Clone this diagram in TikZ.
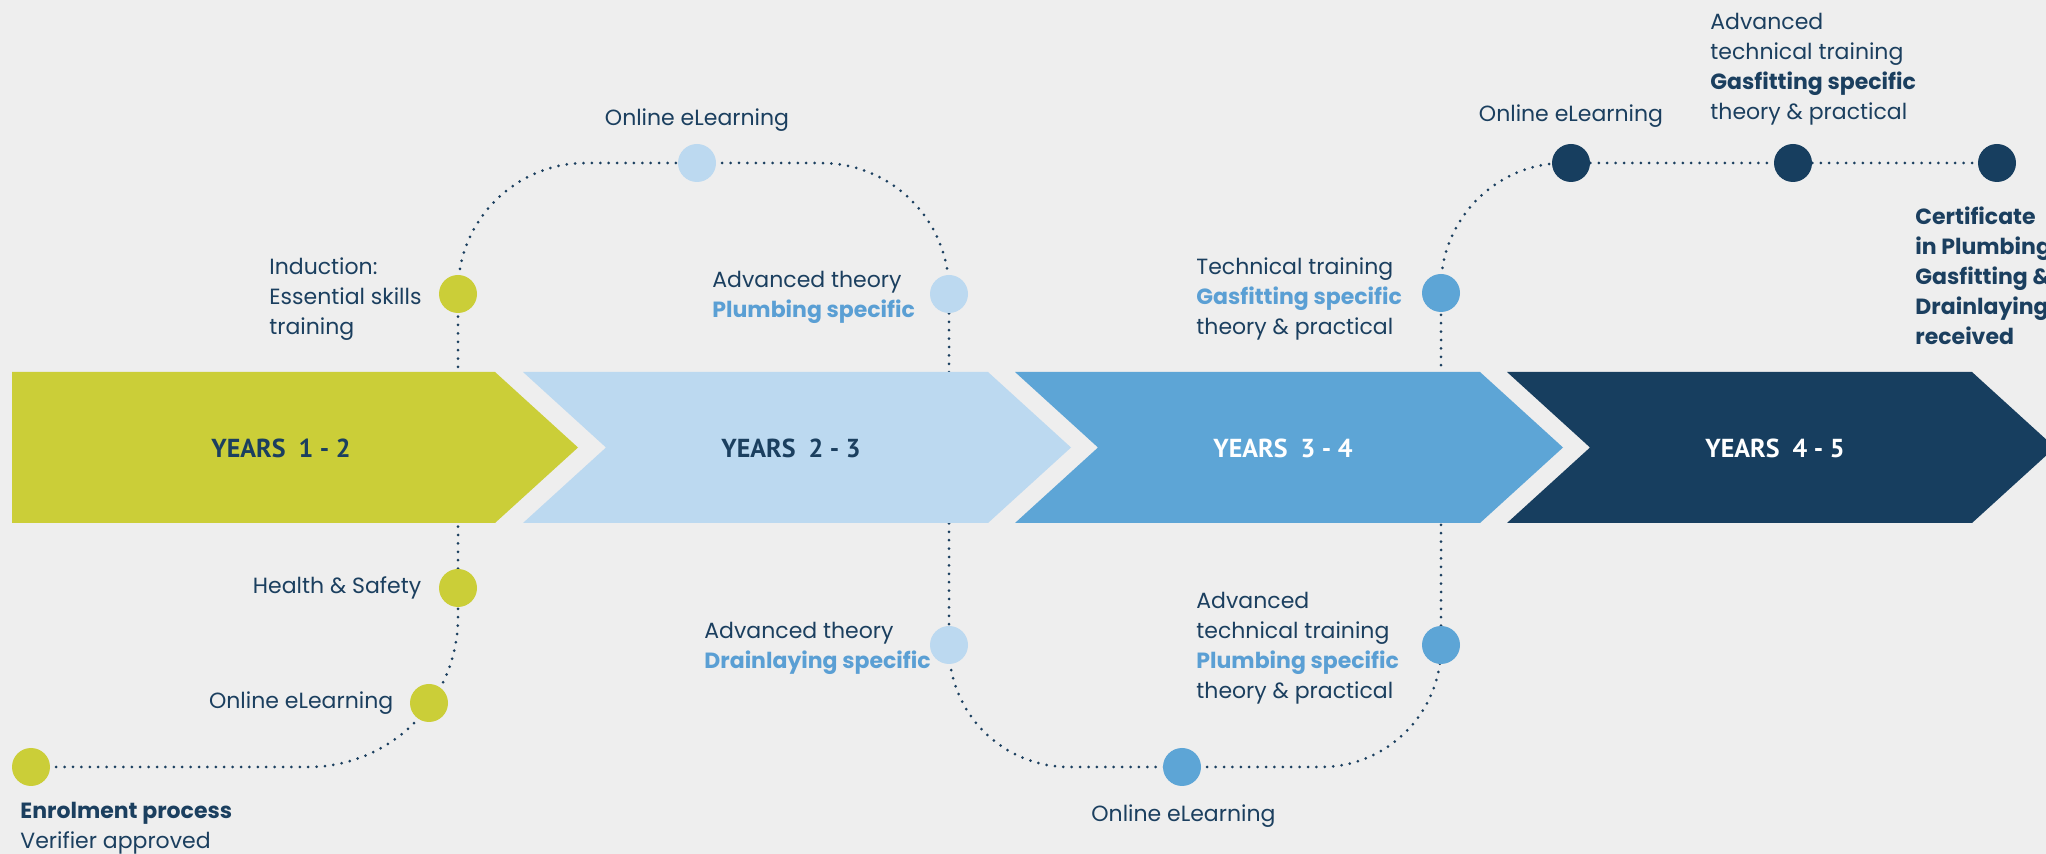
\documentclass[tikz,border=0pt]{standalone}
\usepackage{fontspec}
\setmainfont{Poppins}
\newfontfamily\yearsfont{PT Sans}
\usepackage{tikz}
\usetikzlibrary{positioning,backgrounds}

\definecolor{pagebg}{HTML}{EEEEEE}
\definecolor{yrlime}{HTML}{CBCE38}
\definecolor{yrsky}{HTML}{BCD9F0}
\definecolor{yrmid}{HTML}{5DA5D6}
\definecolor{yrnavy}{HTML}{173E5F}
\definecolor{ink}{HTML}{1B3F5F}
\definecolor{accent}{HTML}{5A9FD4}

\begin{document}
\begin{tikzpicture}[
    x=0.5pt, y=-0.5pt,
    dot/.style={circle, minimum size=19pt, inner sep=0pt},
    dotline/.style={draw=ink, line width=1.5pt, line cap=round, dash pattern=on 0pt off 4.2pt},
    lbl/.style={font=\fontsize{11}{15}\selectfont, text=ink, inner sep=0pt, align=left},
    yrs/.style={font=\yearsfont\bfseries\fontsize{13}{15}\selectfont, inner sep=0pt}
]
    \useasboundingbox (0,0) rectangle (2046,854);

    % milestones
    \node[dot, fill=yrlime] (enrol) at (31,767) {};
    \node[dot, fill=yrlime] (olA) at (429,703) {};
    \node[dot, fill=yrlime] (hs) at (458,588) {};
    \node[dot, fill=yrlime] (ind) at (458,294) {};
    \node[dot, fill=yrsky] (olB) at (697,163) {};
    \node[dot, fill=yrsky] (advp) at (949,294) {};
    \node[dot, fill=yrsky] (advd) at (949,645) {};
    \node[dot, fill=yrmid] (olC) at (1182,767) {};
    \node[dot, fill=yrmid] (advtp) at (1441,645) {};
    \node[dot, fill=yrmid] (tech) at (1441,293) {};
    \node[dot, fill=yrnavy] (olD) at (1571,163) {};
    \node[dot, fill=yrnavy] (advtg) at (1793,163) {};
    \node[dot, fill=yrnavy] (cert) at (1997,163) {};

    % year bands
    \node[yrs, text=ink] (y12) at (281,448) {YEARS\enspace1 - 2};
    \node[yrs, text=ink] (y23) at (791,448) {YEARS\enspace2 - 3};
    \node[yrs, text=white] (y34) at (1283,448) {YEARS\enspace3 - 4};
    \node[yrs, text=white] (y45) at (1775,448) {YEARS\enspace4 - 5};

    % labels
    \node[lbl, anchor=north west] (lenrol) at (20,802) {\textbf{Enrolment process}\\Verifier approved};
    \node[lbl, left=8pt of olA] (lolA) {Online eLearning};
    \node[lbl, left=8.5pt of hs] (lhs) {Health \& Safety};
    \node[lbl, anchor=north west] (lind) at (269,257) {Induction:\\Essential skills\\training};
    \node[lbl, above=6pt of olB] (lolB) {Online eLearning};
    \node[lbl, anchor=north west] (ladvp) at (712,271) {Advanced theory\\\textcolor{accent}{\textbf{Plumbing specific}}};
    \node[lbl, anchor=north west] (ladvd) at (704,622) {Advanced theory\\\textcolor{accent}{\textbf{Drainlaying specific}}};
    \node[lbl, anchor=base west] (lolC) at (1091,822) {Online eLearning};
    \node[lbl, anchor=north west] (ladvtp) at (1196,592) {Advanced\\technical training\\\textcolor{accent}{\textbf{Plumbing specific}}\\theory \& practical};
    \node[lbl, anchor=north west] (ltech) at (1196,257) {Technical training\\\textcolor{accent}{\textbf{Gasfitting specific}}\\theory \& practical};
    \node[lbl, above=8pt of olD] (lolD) {Online eLearning};
    \node[lbl, anchor=north west] (ladvtg) at (1710,13) {Advanced\\technical training\\\textbf{Gasfitting specific}\\theory \& practical};
    \node[lbl, anchor=north west, font=\fontsize{11}{15}\selectfont\bfseries] (lcert) at (1915,206) {Certificate\\in Plumbing\\Gasfitting \&\\Drainlaying\\received};

    \begin{scope}[on background layer]
        \fill[pagebg] (0,0) rectangle (2046,854);
        % pathway
        \draw[dotline, rounded corners=75pt] (enrol.center) -- (enrol.center -| hs.center) -- (hs.center);
        \draw[dotline] (hs) -- (ind);
        \draw[dotline, rounded corners=64pt] (ind.center) -- (ind.center |- olB.center) -- (olB.center);
        \draw[dotline, rounded corners=64pt] (olB.center) -- (olB.center -| advp.center) -- (advp.center);
        \draw[dotline] (advp) -- (advd);
        \draw[dotline, rounded corners=60pt] (advd.center) -- (advd.center |- olC.center) -- (olC.center);
        \draw[dotline, rounded corners=60pt] (olC.center) -- (olC.center -| advtp.center) -- (advtp.center);
        \draw[dotline] (advtp) -- (tech);
        \draw[dotline, rounded corners=62pt] (tech.center) -- (tech.center |- olD.center) -- (olD.center);
        \draw[dotline] (olD) -- (advtg) -- (cert);
        % arrows
        \fill[yrlime] (12,372) -- (495,372) -- (578,447.5) -- (495,523) -- (12,523) -- cycle;
        \foreach \s/\col in {523/yrsky, 1015/yrmid, 1507/yrnavy}
            \fill[\col] (\s,372) -- (\s+465,372) -- (\s+548,447.5) -- (\s+465,523) -- (\s,523) -- (\s+83,447.5) -- cycle;
    \end{scope}
\end{tikzpicture}
\end{document}
